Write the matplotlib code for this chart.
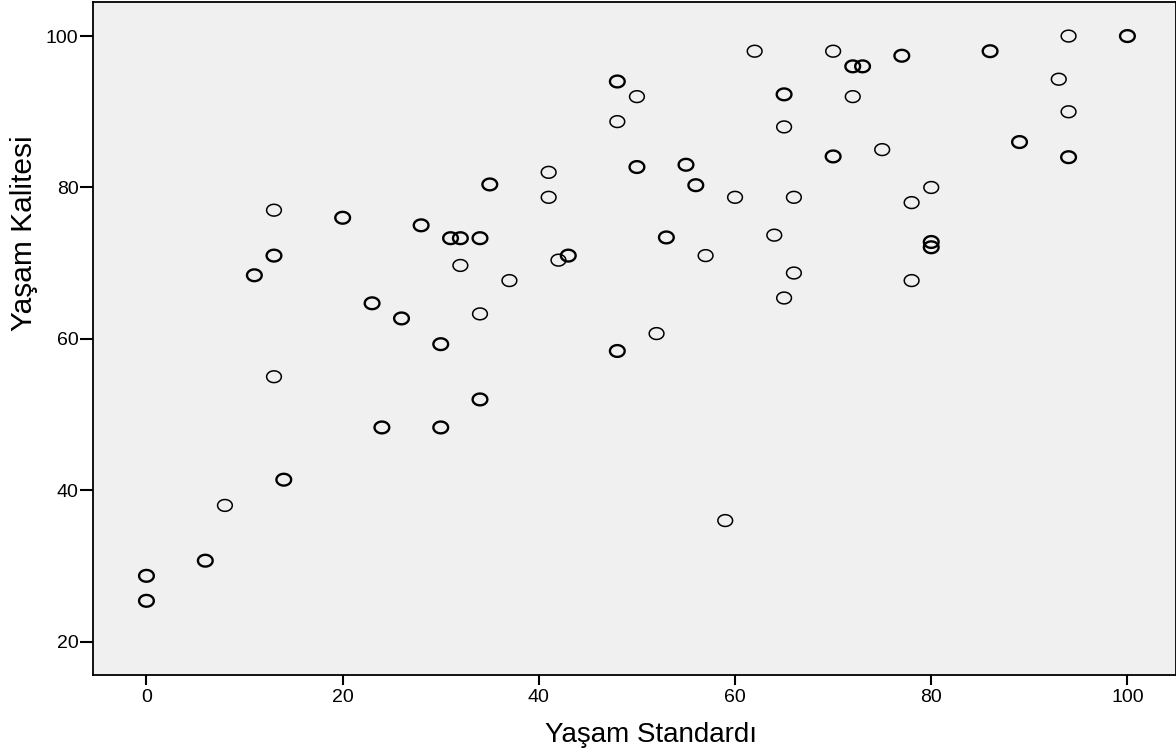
import matplotlib
matplotlib.use("Agg")
from matplotlib import pyplot as plt
from matplotlib.path import Path
import numpy as np

# Yaşam Standardı (x) ve Yaşam Kalitesi (y) değerleri
yasam_standardi = [0, 0, 6, 8, 14, 13, 11, 13, 13, 20, 23, 26, 24, 28, 30, 30,
                   31, 32, 32, 34, 34, 34, 35, 37, 41, 41, 42, 43, 48, 48, 48,
                   50, 50, 52, 53, 55, 56, 57, 59, 60, 62, 64, 65, 65, 65, 66,
                   66, 70, 70, 72, 73, 72, 75, 77, 78, 78, 80, 80, 80, 86, 89,
                   93, 94, 94, 94, 100]
yasam_kalitesi = [28.7, 25.4, 30.7, 38.0, 41.4, 55.0, 68.4, 71.0, 77.0, 76.0,
                  64.7, 62.7, 48.3, 75.0, 59.3, 48.3, 73.3, 73.3, 69.7, 73.3,
                  63.3, 52.0, 80.4, 67.7, 82.0, 78.7, 70.4, 71.0, 94.0, 88.7,
                  58.4, 92.0, 82.7, 60.7, 73.4, 83.0, 80.3, 71.0, 36.0, 78.7,
                  98.0, 73.7, 92.3, 88.0, 65.4, 78.7, 68.7, 98.0, 84.1, 96.0,
                  96.0, 92.0, 85.0, 97.4, 78.0, 67.7, 80.0, 72.8, 72.1, 98.0,
                  86.0, 94.3, 100.0, 90.0, 84.0, 100.0]
# üst üste binen gözlem sayısı (kalın görünen halkalar)
n_cases = [2, 2, 2, 1, 2, 1, 2, 2, 1, 2, 2, 2, 2, 2, 2, 2,
           2, 2, 1, 2, 1, 2, 2, 1, 1, 1, 1, 2, 2, 1, 2,
           1, 2, 1, 2, 2, 2, 1, 1, 1, 1, 1, 2, 1, 1, 1,
           1, 1, 2, 2, 2, 1, 1, 2, 1, 1, 1, 2, 2, 2, 2,
           1, 1, 1, 2, 2]

plt.rcParams['font.family'] = ['Liberation Sans', 'DejaVu Sans']

# SPSS tarzı yatık elips halka
t = np.linspace(0, 2 * np.pi, 61)
halka = Path(np.column_stack([np.cos(t), 0.8 * np.sin(t)]), closed=True)

fig = plt.figure(figsize=(11.76, 7.53), dpi=100)
ax = fig.add_axes([92.5 / 1176, 78 / 753, 1083 / 1176, 673 / 753])
ax.set_facecolor('#f0f0f0')

lw = [1.1 if n == 1 else 1.7 for n in n_cases]
ax.scatter(yasam_standardi, yasam_kalitesi, s=10.6 ** 2, marker=halka,
           facecolors='none', edgecolors='black', linewidths=lw, zorder=3)

ax.set_xlim(-5.5, 104.9)
ax.set_ylim(15.6, 104.5)
ax.set_xticks([0, 20, 40, 60, 80, 100])
ax.set_yticks([20, 40, 60, 80, 100])
for sp in ax.spines.values():
    sp.set_linewidth(1.3)
ax.tick_params(axis='x', length=7, width=1.5, pad=3, labelsize=14)
ax.tick_params(axis='y', length=9.5, width=1.5, pad=0.5, labelsize=14)

fig.text(651 / 1176, (753 - 741.7) / 753, 'Yaşam Standardı', fontsize=20,
         ha='center', va='baseline')
fig.text(32 / 1176, (753 - 233) / 753, 'Yaşam Kalitesi', fontsize=21.5,
         rotation=90, rotation_mode='anchor', ha='center', va='baseline')

fig.savefig('out.png', dpi=100)
